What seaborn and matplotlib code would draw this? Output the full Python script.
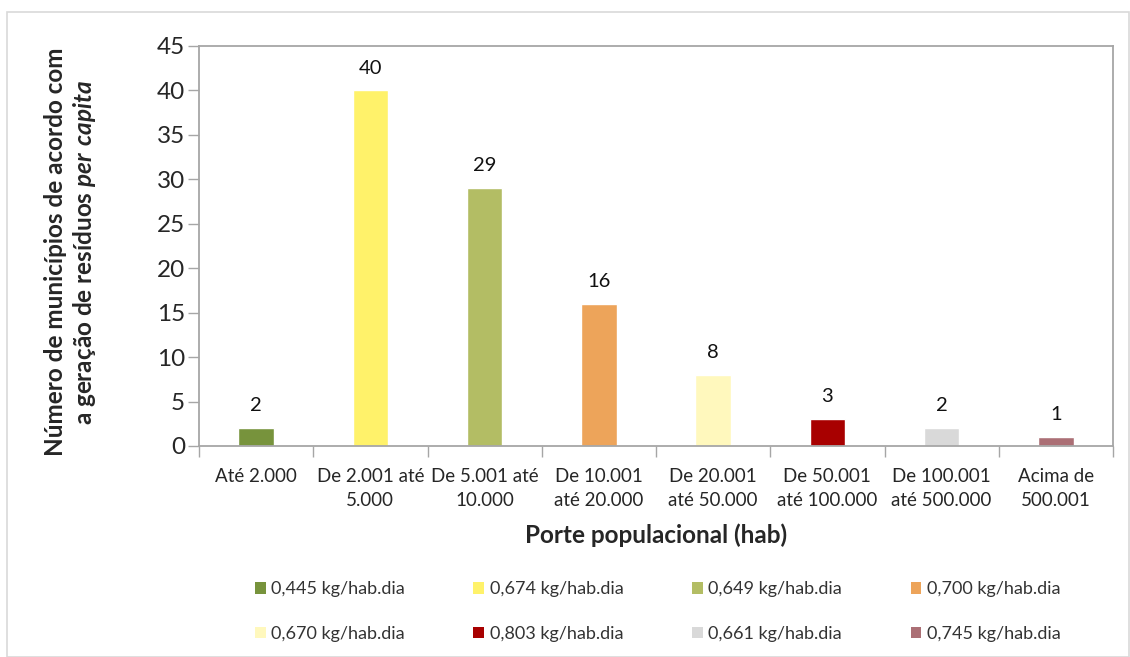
import matplotlib
matplotlib.use("Agg")
import matplotlib.pyplot as plt
import seaborn as sns
import pandas as pd
from matplotlib.patches import Rectangle, Patch

categories = ["Até 2.000", "De 2.001 até\n5.000", "De 5.001 até\n10.000", "De 10.001\naté 20.000",
              "De 20.001\naté 50.000", "De 50.001\naté 100.000", "De 100.001\naté 500.000", "Acima de\n500.001"]
values = [2, 40, 29, 16, 8, 3, 2, 1]
legend_labels = ["0,445 kg/hab.dia", "0,674 kg/hab.dia", "0,649 kg/hab.dia", "0,700 kg/hab.dia",
                 "0,670 kg/hab.dia", "0,803 kg/hab.dia", "0,661 kg/hab.dia", "0,745 kg/hab.dia"]
colors = ["#77933C", "#FFF26A", "#B3BD64", "#EDA45A", "#FFF8BD", "#A80000", "#D9D9D9", "#AB6F75"]

sns.set_theme(style="white")
plt.rcParams['font.family'] = ['Lato', 'DejaVu Sans']
plt.rcParams['mathtext.fontset'] = 'custom'
plt.rcParams['mathtext.bfit'] = 'Lato:bold:italic'
plt.rcParams['mathtext.bf'] = 'Lato:bold'

df = pd.DataFrame({"cat": categories, "val": values, "leg": legend_labels})

fig = plt.figure(figsize=(11.3, 6.57), dpi=100)
ax = fig.add_axes([199/1130, 1-446/657, (1113-199)/1130, (446-46)/657])

sns.barplot(data=df, x="cat", y="val", hue="leg", order=categories, hue_order=legend_labels,
            palette=colors, dodge=False, width=0.31, legend=False, ax=ax, saturation=1)

for c in ax.containers:
    ax.bar_label(c, fmt="%g", padding=10, fontsize=14.5, color="#111111")

ax.set_ylim(0, 45)
ax.set_yticks(range(0, 46, 5))
ax.set_xlim(-0.5, 7.5)
ax.tick_params(axis='y', labelsize=17.5, length=8, width=1, color="#A6A6A6", direction='out', left=True, pad=2)
ax.tick_params(axis='x', which='major', labelsize=13.5, length=0, pad=16)
ax.set_xticks([i - 0.5 for i in range(9)], minor=True)
ax.tick_params(axis='x', which='minor', length=8, width=1, color="#A6A6A6", bottom=True, direction='out')
for lbl in ax.get_xticklabels():
    lbl.set_linespacing(1.45)
for s in ax.spines.values():
    s.set_color("#A6A6A6")
    s.set_linewidth(1.3)
ax.set_xlabel("Porte populacional (hab)", fontsize=17.5, fontweight='bold', labelpad=11)
ax.set_ylabel("")

fig.text(71/1130, 1-252/657,
         "Número de municípios de acordo com\na geração de resíduos $\\mathbfit{per\\ capita}$",
         rotation=90, ha='center', va='center', multialignment='center',
         fontsize=17.5, fontweight='bold', linespacing=1.2)

order = [0, 4, 1, 5, 2, 6, 3, 7]
handles = [Patch(facecolor=colors[i], edgecolor='none') for i in order]
labels = [legend_labels[i] for i in order]
fig.legend(handles, labels, loc='center', bbox_to_anchor=(0.582, 0.069), ncol=4,
           frameon=False, fontsize=13, handlelength=0.6, handleheight=0.6, handletextpad=0.3,
           columnspacing=3.8, labelspacing=1.6, labelcolor="#333333")

fig.patches.append(Rectangle((7/1130, 0), 1 - 7/1130 - 1/1130, 1 - 12/657, transform=fig.transFigure,
                             fill=False, edgecolor="#D9D9D9", linewidth=1.2))

fig.savefig("out.png", dpi=100)
